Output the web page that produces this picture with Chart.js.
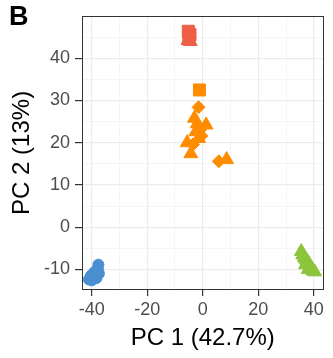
<!DOCTYPE html>
<html>
<head>
<meta charset="utf-8">
<script src="https://cdn.jsdelivr.net/npm/chart.js@4"></script>
<style>
html,body{margin:0;padding:0;background:#fff;}
#wrap{position:relative;width:333px;height:358px;}
#lbl{position:absolute;left:9px;top:1px;font:bold 27px "Liberation Sans",Arial,sans-serif;color:#000;}
</style>
</head>
<body>
<div id="wrap"><canvas id="c" width="333" height="358"></canvas><div id="lbl">B</div></div>
<script>
// PC1 / PC2 scores
const redSquares = [[-5.2,46.4],[-4.6,45.6],[-5.0,44.9]];
const redTriangles = [[-5.3,44.2],[-4.5,44.0]];
const orangeSquares = [[-1.2,32.5]];
const orangeDiamonds = [[-1.5,28.4],[-1.0,23.0],[-0.5,21.6],[-3.5,19.6],[5.8,15.6]];
const orangeTriangles = [[-3.0,25.8],[-2.0,24.5],[1.2,24.2],[-2.5,22.6],[-1.5,21.0],[-5.6,20.0],[-4.3,17.4],[8.6,16.0]];
const blueCircles = [[-41.0,-12.4],[-40.3,-11.5],[-39.5,-11.9],[-39.0,-10.6],[-38.4,-11.2],[-37.8,-9.9],[-37.6,-8.9],[-37.4,-11.0],[-38.3,-12.1],[-40.0,-12.6]];
const greenTriangles = [[35.5,-5.8],[36.0,-6.6],[36.6,-7.2],[37.1,-7.6],[37.6,-8.1],[38.2,-8.6],[38.6,-9.3],[39.1,-9.8],[39.6,-10.3],[40.3,-10.6],[38.0,-10.0],[37.0,-8.9]];
const xTicks = [-40,-20,0,20,40];
const yTicks = [-10,0,10,20,30,40];

const RED='#EE5F44', ORANGE='#FF8C00', BLUE='#4A8FD0', GREEN='#8CC43C';
const toPts = a => a.map(p => ({x:p[0], y:p[1]}));
function ds(arr, color, style, r){
  return {data: toPts(arr), pointStyle: style, pointRadius: r, pointHoverRadius: r,
    backgroundColor: color, borderColor: color, borderWidth: 1};
}

const frame = {
  id:'frame',
  afterDraw(chart){
    const {ctx, chartArea:a} = chart;
    ctx.save();
    ctx.strokeStyle='#333333'; ctx.lineWidth=1;
    ctx.strokeRect(Math.round(a.left)+0.5, Math.round(a.top)+0.5, Math.round(a.right-a.left)-1, Math.round(a.bottom-a.top)-1);
    ctx.restore();
  }
};

const FONT = "'Liberation Sans', Arial, sans-serif";
new Chart(document.getElementById('c'), {
  type:'scatter',
  data:{datasets:[
    ds(blueCircles, BLUE, 'circle', 5.5),
    ds(greenTriangles, GREEN, 'triangle', 8),
    ds(orangeTriangles, ORANGE, 'triangle', 8),
    ds(orangeDiamonds, ORANGE, 'rectRot', 6.5),
    ds(orangeSquares, ORANGE, 'rect', 8.5),
    ds(redTriangles, RED, 'triangle', 8),
    ds(redSquares, RED, 'rect', 8.5)
  ]},
  options:{
    responsive:false, animation:false,
    layout:{padding:{left:0, top:6, right:4, bottom:0}},
    plugins:{legend:{display:false}, tooltip:{enabled:false}},
    scales:{
      x:{type:'linear', min:-43.5, max:43.5,
        afterBuildTicks(s){ s.ticks = []; for(let v=-40; v<=40; v+=10) s.ticks.push({value:v}); },
        ticks:{callback:v => xTicks.includes(v) ? String(v) : '', color:'#4D4D4D', font:{family:FONT,size:18}, padding:3, autoSkip:false, maxRotation:0},
        grid:{color:c => xTicks.includes(c.tick.value) ? '#EBEBEB' : '#F2F2F2', lineWidth:c => xTicks.includes(c.tick.value)?1.2:0.8,
              tickColor:c => xTicks.includes(c.tick.value) ? '#333333' : 'rgba(0,0,0,0)', tickLength:6},
        border:{display:false},
        title:{display:true, text:'PC 1 (42.7%)', color:'#000', font:{family:FONT,size:24}, padding:{top:0,bottom:5}},
        afterFit(s){ s.height = 68; }
      },
      y:{type:'linear', min:-14.9, max:50.07,
        afterBuildTicks(s){ s.ticks = []; for(let v=-10; v<=50; v+=5) s.ticks.push({value:v}); },
        ticks:{callback:v => yTicks.includes(v) ? String(v) : '', color:'#4D4D4D', font:{family:FONT,size:18}, padding:5, autoSkip:false},
        grid:{color:c => yTicks.includes(c.tick.value) ? '#EBEBEB' : '#F2F2F2', lineWidth:c => yTicks.includes(c.tick.value)?1.2:0.8,
              tickColor:c => yTicks.includes(c.tick.value) ? '#333333' : 'rgba(0,0,0,0)', tickLength:7},
        border:{display:false},
        title:{display:true, text:'PC 2 (13%)', color:'#000', font:{family:FONT,size:24}, padding:{top:8,bottom:0}},
        afterFit(s){ s.width = 82; }
      }
    }
  },
  plugins:[frame]
});
</script>
</body>
</html>
